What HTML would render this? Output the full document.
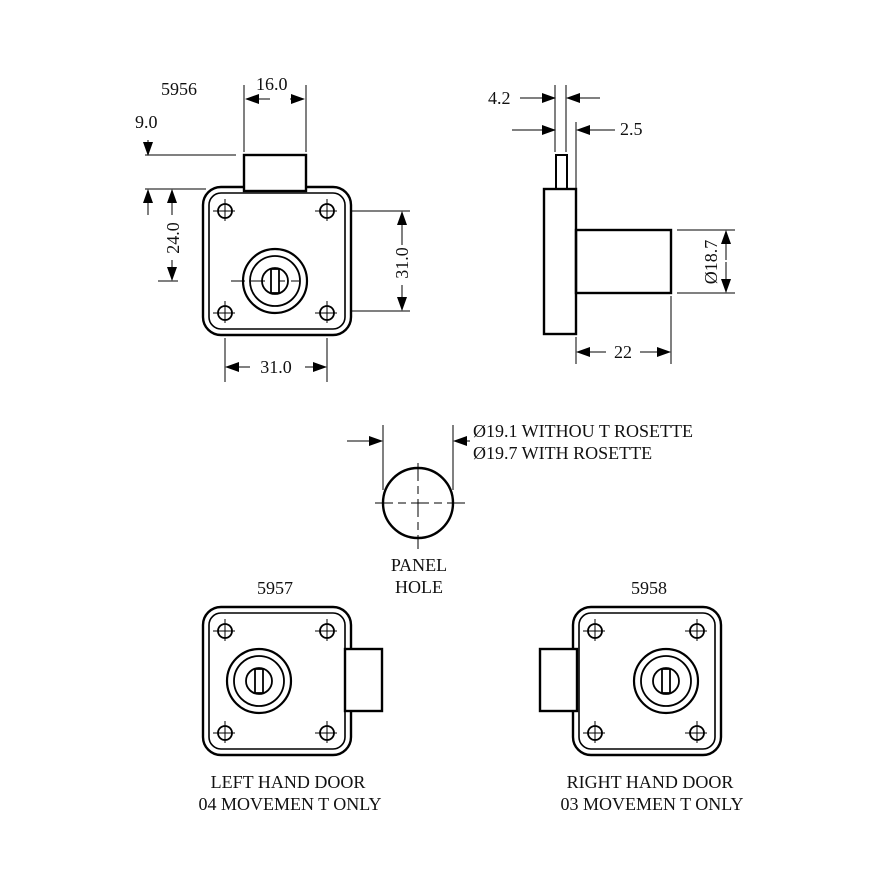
<!DOCTYPE html>
<html><head><style>body{margin:0;background:#fff}svg{display:block}text{font-family:"Liberation Serif",serif;font-size:18px;fill:#111}</style></head>
<body>
<svg width="893" height="893" viewBox="0 0 893 893" xmlns="http://www.w3.org/2000/svg">
<defs>
<marker id="a" markerWidth="14" markerHeight="10" refX="13" refY="5" orient="auto" markerUnits="userSpaceOnUse"><path d="M0,0 L14,5 L0,10 z" fill="#000"/></marker>
<g id="body" fill="none" stroke="#000">
<rect x="-74" y="-74" width="148" height="148" rx="18" stroke-width="2.4"/>
<rect x="-68" y="-68" width="136" height="136" rx="12" stroke-width="1.6"/>
<g stroke-width="1.8"><circle cx="-52" cy="-50" r="7"/><circle cx="50" cy="-50" r="7"/><circle cx="-52" cy="52" r="7"/><circle cx="50" cy="52" r="7"/></g>
<g stroke-width="1"><path d="M-64,-50h22M-52,-62v22M38,-50h22M50,-62v22M-64,52h22M-52,40v22M38,52h22M50,40v22"/></g>
</g>
<g id="key" stroke="#000">
<circle r="32" fill="none" stroke-width="2.2"/><circle r="25" fill="none" stroke-width="1.8"/><circle r="13" fill="none" stroke-width="1.8"/><rect x="-4" y="-12" width="8" height="24" fill="#fff" stroke-width="1.8"/>
</g>
</defs>
<g stroke="#000" fill="none">
<use href="#body" x="277" y="261"/>
<rect x="244" y="155" width="62" height="36" fill="#fff" stroke-width="2.4"/>
<path d="M231,281h68" stroke-width="1" stroke-dasharray="14,6"/>
<path d="M158,281h20" stroke-width="1"/>
<use href="#key" x="275" y="281"/>
<g stroke-width="1">
<path d="M244,152V85M306,152V85"/>
<path d="M270,99H246" marker-end="url(#a)"/><path d="M290,99H304" marker-end="url(#a)"/>
<path d="M145,155H236"/><path d="M148,140V155" marker-end="url(#a)"/>
<path d="M145,189H206"/><path d="M148,215V190" marker-end="url(#a)"/>
<path d="M172,215V190" marker-end="url(#a)"/><path d="M172,260V280" marker-end="url(#a)"/>
<path d="M352,211H410M352,311H410"/>
<path d="M402,245V212" marker-end="url(#a)"/><path d="M402,285V310" marker-end="url(#a)"/>
<path d="M225,338V382M327,338V382"/>
<path d="M250,367H226" marker-end="url(#a)"/><path d="M305,367H326" marker-end="url(#a)"/>
</g>
<rect x="556" y="155" width="11" height="34" stroke-width="2"/>
<rect x="544" y="189" width="32" height="145" stroke-width="2.4"/>
<rect x="576" y="230" width="95" height="63" stroke-width="2.4"/>
<g stroke-width="1">
<path d="M555,152V85M566,152V85M576,188V122"/>
<path d="M520,98H555" marker-end="url(#a)"/><path d="M600,98H567" marker-end="url(#a)"/>
<path d="M512,130H555" marker-end="url(#a)"/><path d="M615,130H577" marker-end="url(#a)"/>
<path d="M677,230H735M677,293H735"/>
<path d="M726,260V231" marker-end="url(#a)"/><path d="M726,262V292" marker-end="url(#a)"/>
<path d="M576,337V364M671,296V364"/>
<path d="M606,352H577" marker-end="url(#a)"/><path d="M640,352H670" marker-end="url(#a)"/>
</g>
<circle cx="418" cy="503" r="35" stroke-width="2.4"/>
<g stroke-width="1">
<path d="M375,503h90M418,463v86" stroke-dasharray="18,5,8,5"/>
<path d="M383,425V490M453,425V490"/>
<path d="M347,441H382" marker-end="url(#a)"/><path d="M470,441H454" marker-end="url(#a)"/>
</g>
<use href="#body" x="277" y="681"/>
<rect x="345" y="649" width="37" height="62" fill="#fff" stroke-width="2.4"/>
<use href="#key" x="259" y="681"/>
<use href="#body" x="647" y="681"/>
<rect x="540" y="649" width="37" height="62" fill="#fff" stroke-width="2.4"/>
<use href="#key" x="666" y="681"/>
</g>
<text x="161" y="95">5956</text>
<text x="256" y="90">16.0</text>
<text x="135" y="128">9.0</text>
<text transform="translate(179,238) rotate(-90)" text-anchor="middle">24.0</text>
<text transform="translate(408,263) rotate(-90)" text-anchor="middle">31.0</text>
<text x="276" y="373" text-anchor="middle">31.0</text>
<text x="488" y="104">4.2</text>
<text x="620" y="135">2.5</text>
<text transform="translate(717,262) rotate(-90)" text-anchor="middle">Ø18.7</text>
<text x="623" y="358" text-anchor="middle">22</text>
<text x="473" y="437">Ø19.1 WITHOU T ROSETTE</text>
<text x="473" y="459">Ø19.7 WITH ROSETTE</text>
<text x="419" y="571" text-anchor="middle">PANEL</text>
<text x="419" y="593" text-anchor="middle">HOLE</text>
<text x="275" y="594" text-anchor="middle">5957</text>
<text x="649" y="594" text-anchor="middle">5958</text>
<text x="288" y="788" text-anchor="middle">LEFT HAND DOOR</text>
<text x="290" y="810" text-anchor="middle">04 MOVEMEN T ONLY</text>
<text x="650" y="788" text-anchor="middle">RIGHT HAND DOOR</text>
<text x="652" y="810" text-anchor="middle">03 MOVEMEN T ONLY</text>
</svg>
</body></html>
